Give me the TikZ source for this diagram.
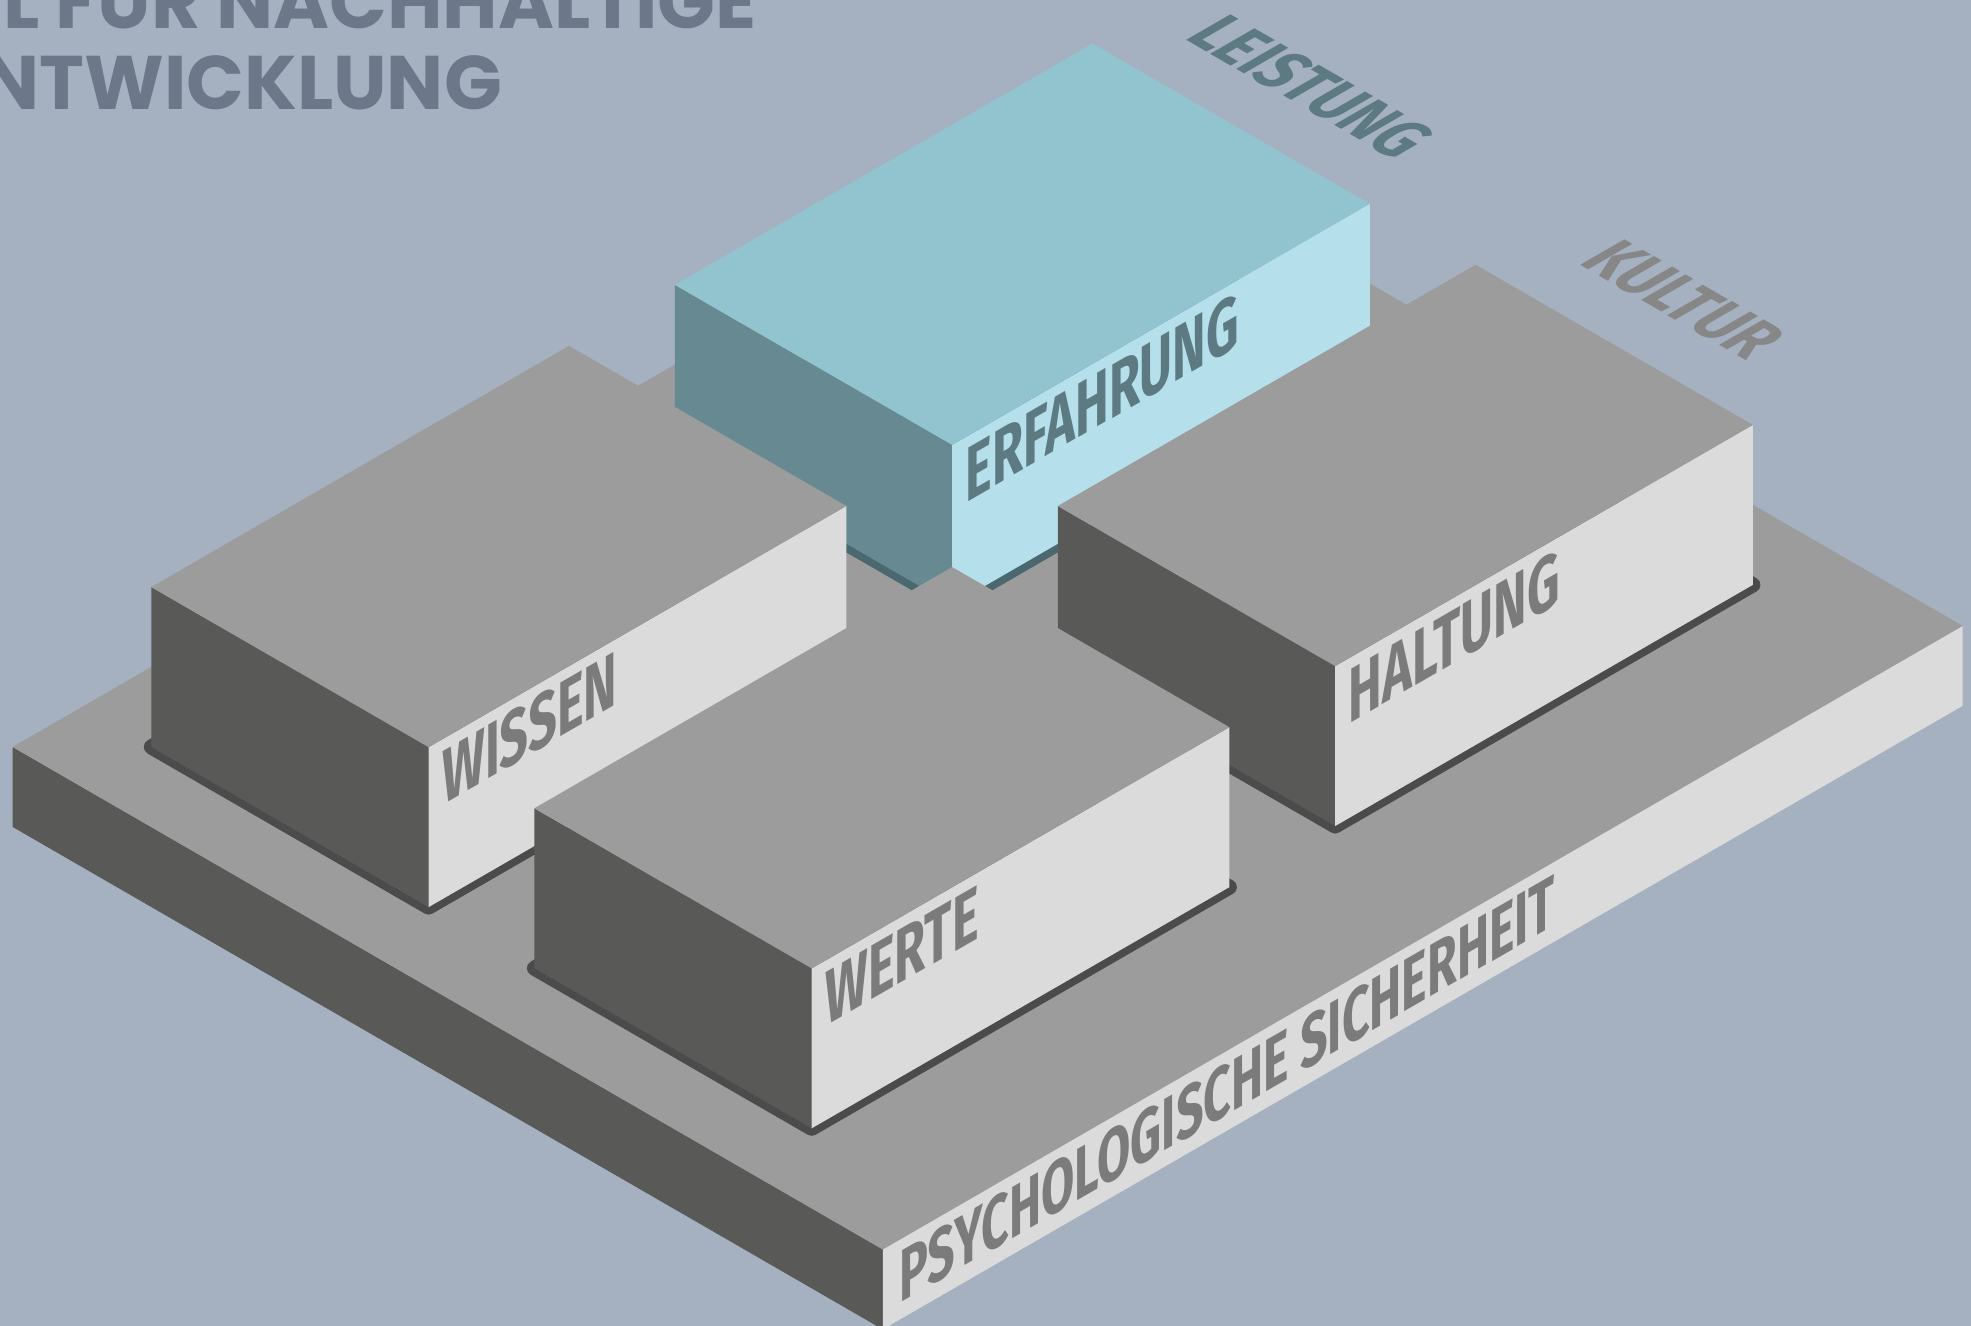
\documentclass[tikz,border=0pt]{standalone}
\usepackage{xcolor}
\usepackage{fontspec}
\usepackage{tikz}
\newfontfamily\titlefont{Poppins}
\newfontfamily\labelfont[FakeStretch=0.755]{Fira Sans}

\definecolor{bgblue}{HTML}{A5B0C1}
\definecolor{topgray}{HTML}{9C9C9C}
\definecolor{sidegray}{HTML}{595958}
\definecolor{frontgray}{HTML}{DBDBDB}
\definecolor{shadowgray}{HTML}{4B4B4B}
\definecolor{labelgray}{HTML}{7B7B7B}
\definecolor{tealtop}{HTML}{92C4D0}
\definecolor{tealside}{HTML}{678A92}
\definecolor{tealfront}{HTML}{B5DFEB}
\definecolor{tealshadow}{HTML}{4B6870}
\definecolor{teallabel}{HTML}{5D7A82}
\definecolor{kulturgray}{HTML}{878787}
\definecolor{titleblue}{HTML}{6C788A}

\tikzset{
    footprint/.style={draw=#1, fill=#1, line width=0.15cm, line join=round},
    facelabel/.style={font=\labelfont\bfseries\fontsize{22}{24}\selectfont, text=labelgray, inner sep=0pt, anchor=base west, cm={0.866,0.5,0,1,(0,0)}},
    groundlabel/.style={font=\labelfont\bfseries\fontsize{21}{24}\selectfont, inner sep=0pt, anchor=base west, cm={0.866,-0.5,0.866,0.5,(0,0)}},
    titlestyle/.style={font=\titlefont\bfseries\fontsize{21.6}{24}\selectfont, text=titleblue, inner sep=0pt, anchor=base east},
}

% one block: name, X, Y, label, top, side, front, shadow, text
\newcommand{\isoblock}[9]{%
  \begin{scope}[shift={(#2,#3,0)}]
    \filldraw[footprint=#8] (0,0,0) -- (320,0,0) -- (320,482,0) -- (0,482,0) -- cycle;
    \fill[#6] (0,0,0) -- (320,0,0) -- (320,0,160) -- (0,0,160) -- cycle;
    \fill[#7] (320,0,0) -- (320,482,0) -- (320,482,160) -- (320,0,160) -- cycle;
    \fill[#5] (0,0,160) -- (320,0,160) -- (320,482,160) -- (0,482,160) -- cycle;
    \node[facelabel, text=#9] (#1) at (320,15,94) {#4};
  \end{scope}}

\begin{document}
\begin{tikzpicture}[x={(0.00866cm,-0.005cm)}, y={(0.00866cm,0.005cm)}, z={(0cm,0.01cm)}]

    % Background
    \useasboundingbox (-0.126cm,-5.79cm) rectangle (19.584cm,7.47cm);
    \fill[bgblue] (-0.126cm,-5.79cm) rectangle (19.584cm,7.47cm);

    % Title
    \node[titlestyle] (titleA) at (7.45cm,7.18cm) {L FÜR NACHHALTIGE};
    \node[titlestyle] (titleB) at (4.90cm,6.377cm) {NTWICKLUNG};

    % Base slab
    \fill[sidegray] (0,0,-80) -- (1004,0,-80) -- (1004,0,0) -- (0,0,0) -- cycle;
    \fill[frontgray] (1004,0,-80) -- (1004,1246,-80) -- (1004,1246,0) -- (1004,0,0) -- cycle;
    \fill[topgray] (0,0,0) -- (1004,0,0) -- (1004,1246,0) -- (0,1246,0) -- cycle;
    \node[facelabel, font=\labelfont\bfseries\fontsize{21}{22}\selectfont] (base) at (1004,19,-64) {PSYCHOLOGISCHE SICHERHEIT};

    % Ground labels
    \node[groundlabel, text=teallabel] (leistung) at (11.70cm,7.09cm) {LEISTUNG};
    \node[groundlabel, text=kulturgray] (kultur) at (15.64cm,4.84cm) {KULTUR};

    % Blocks, back to front
    \isoblock{erfahrung}{80}{684}{ERFAHRUNG}{tealtop}{tealside}{tealfront}{tealshadow}{teallabel}
    \isoblock{wissen}{80}{80}{WISSEN}{topgray}{sidegray}{frontgray}{shadowgray}{labelgray}
    \isoblock{haltung}{522}{684}{HALTUNG}{topgray}{sidegray}{frontgray}{shadowgray}{labelgray}
    \isoblock{werte}{522}{80}{WERTE}{topgray}{sidegray}{frontgray}{shadowgray}{labelgray}

\end{tikzpicture}
\end{document}
